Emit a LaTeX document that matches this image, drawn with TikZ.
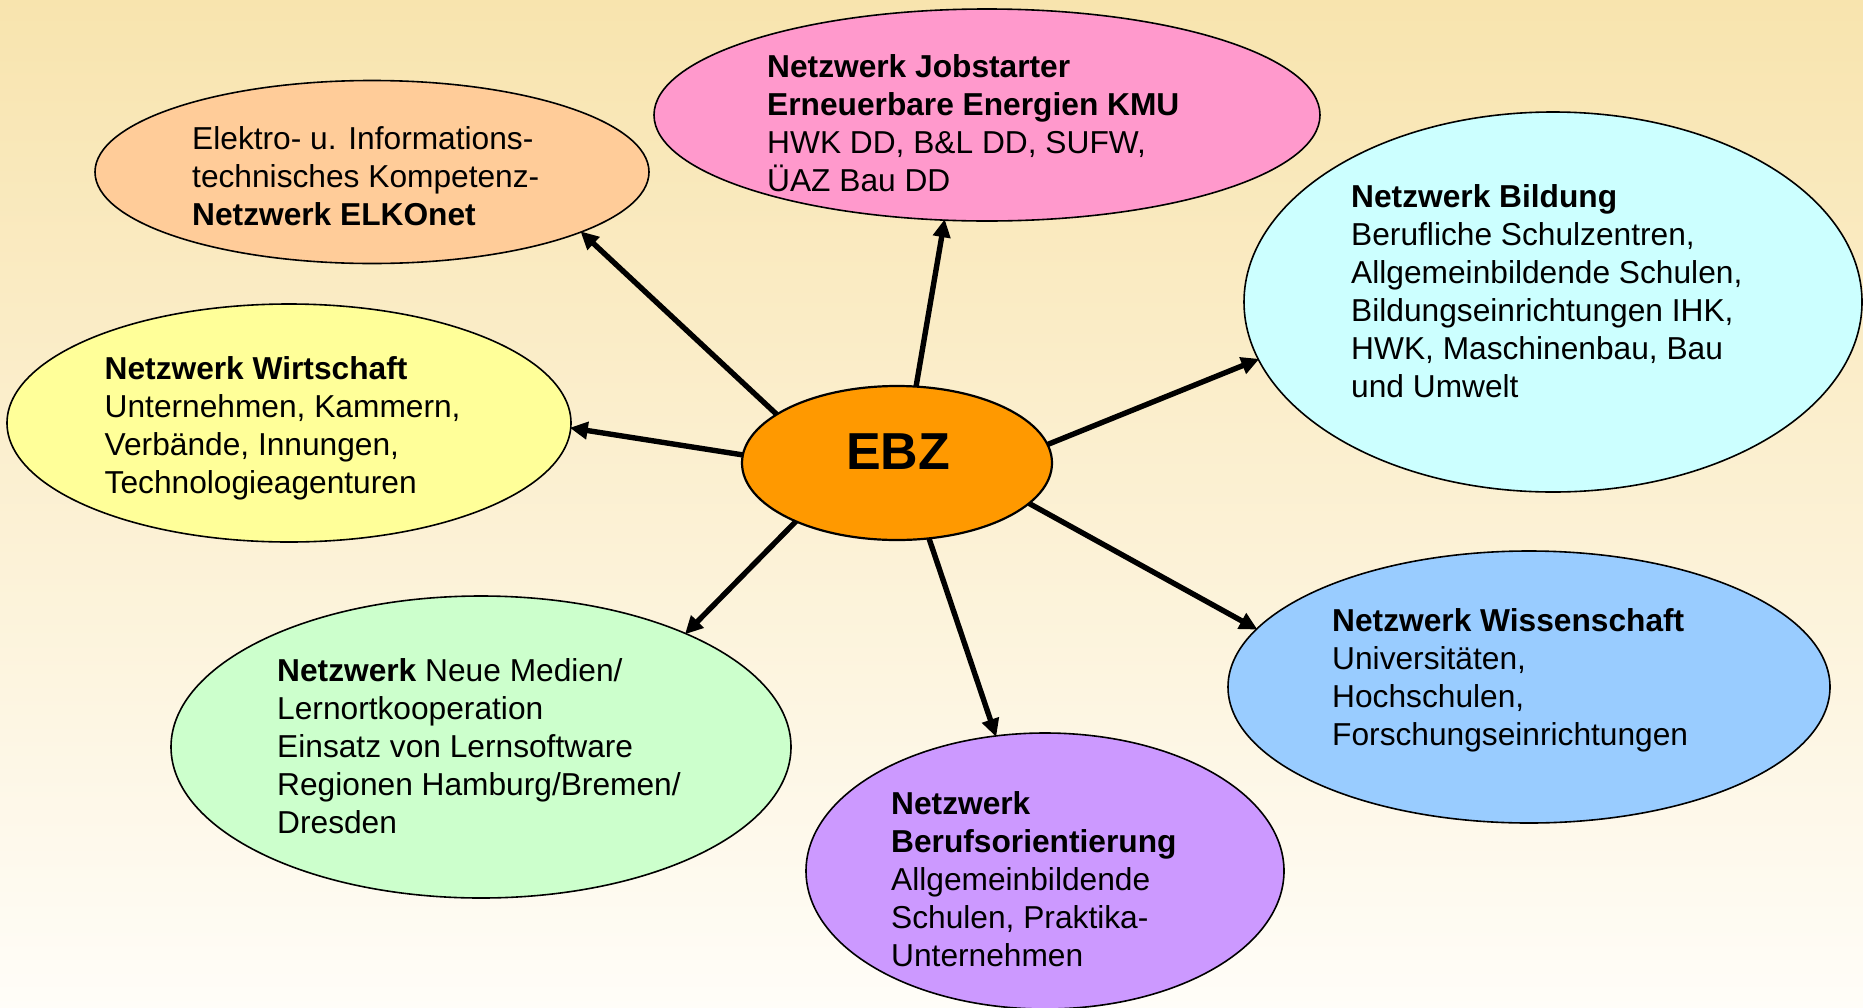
\documentclass[tikz,border=0pt]{standalone}
\usepackage{fontspec}
\setmainfont{Liberation Sans}
\usetikzlibrary{shapes.geometric,arrows.meta}

\definecolor{bgtop}{HTML}{F8E4AE}
\definecolor{bgbot}{HTML}{FFFDF8}
\definecolor{cpeach}{HTML}{FFCC99}
\definecolor{cpink}{HTML}{FF99CC}
\definecolor{ccyan}{HTML}{CCFFFF}
\definecolor{cyellow}{HTML}{FFFF99}
\definecolor{cgreen}{HTML}{CCFFCC}
\definecolor{cviolet}{HTML}{CC99FF}
\definecolor{cblue}{HTML}{99CCFF}
\definecolor{corange}{HTML}{FF9900}

\tikzset{
  bubble/.style={ellipse, draw=black, line width=1.6pt, inner sep=0pt, outer sep=0pt},
  % multi-line labels are placed by the baseline of their last line
  txt/.style={anchor=base west, align=left, inner sep=0pt,
    font=\fontsize{31.7}{38}\selectfont},
  link/.style={line width=5.4pt, -{Triangle[length=18pt,width=17pt]}, shorten >=-1pt}
}

\begin{document}
\begin{tikzpicture}[x=1pt,y=-1pt]
  % page and background gradient
  \useasboundingbox (0,0) rectangle (1863,1007);
  \shade[top color=bgtop, bottom color=bgbot] (0,0) rectangle (1863,1007);

  % partner networks
  \node[bubble, fill=cpeach,  minimum width=554pt, minimum height=183pt] (elk)  at (372,172) {};
  \node[bubble, fill=cpink,   minimum width=666pt, minimum height=212pt] (job)  at (987,115) {};
  \node[bubble, fill=ccyan,   minimum width=618pt, minimum height=380pt] (bild) at (1553,302) {};
  \node[bubble, fill=cyellow, minimum width=564pt, minimum height=238pt] (wirt) at (289,423) {};
  \node[bubble, fill=cgreen,  minimum width=620pt, minimum height=302pt] (med)  at (481,747) {};
  \node[bubble, fill=cviolet, minimum width=478pt, minimum height=276pt] (ber)  at (1045,871) {};
  \node[bubble, fill=cblue,   minimum width=602pt, minimum height=272pt] (wiss) at (1529,687) {};

  % centre
  \node[bubble, fill=corange, line width=2.2pt, minimum width=310pt, minimum height=154pt] (ebz) at (897,463) {};
  \node[anchor=base, inner sep=0pt, font=\fontsize{52}{60}\selectfont\bfseries] (ebzt) at (898,469) {EBZ};

  % labels
  \node[txt] (elkt) at (192,225) {Elektro- u. Informations-\\technisches Kompetenz-\\\textbf{Netzwerk ELKOnet}};
  \node[txt] (jobt) at (767,191.5) {\textbf{Netzwerk Jobstarter}\\\textbf{Erneuerbare Energien KMU}\\HWK DD, B\&L DD, SUFW,\\ÜAZ Bau DD};
  \node[txt] (bildt) at (1351,397) {\textbf{Netzwerk Bildung}\\Berufliche Schulzentren,\\Allgemeinbildende Schulen,\\Bildungseinrichtungen IHK,\\HWK, Maschinenbau, Bau\\und Umwelt};
  \node[txt] (wirtt) at (104.5,493) {\textbf{Netzwerk Wirtschaft}\\Unternehmen, Kammern,\\Verbände, Innungen,\\Technologieagenturen};
  \node[txt] (medt) at (277,833) {\textbf{Netzwerk} Neue Medien/\\Lernortkooperation\\Einsatz von Lernsoftware\\Regionen Hamburg/Bremen/\\Dresden};
  \node[txt] (wisst) at (1332,745) {\textbf{Netzwerk Wissenschaft}\\Universitäten,\\Hochschulen,\\Forschungseinrichtungen};
  \node[txt] (bert) at (891,966) {\textbf{Netzwerk}\\\textbf{Berufsorientierung}\\Allgemeinbildende\\Schulen, Praktika-\\Unternehmen};

  % connectors from the centre
  \draw[link] (ebz.158.8)  -- (elk.-16.7);
  \draw[link] (ebz.76)     -- (job.-112.8);
  \draw[link] (ebz.7.5)    -- (bild.-169.8);
  \draw[link] (ebz.177.4)  -- (wirt.-1.2);
  \draw[link] (ebz.-150.3) -- (med.29.3);
  \draw[link] (ebz.-67.5)  -- (ber.110.9);
  \draw[link] (ebz.-17.7)  -- (wiss.168.5);
\end{tikzpicture}
\end{document}
